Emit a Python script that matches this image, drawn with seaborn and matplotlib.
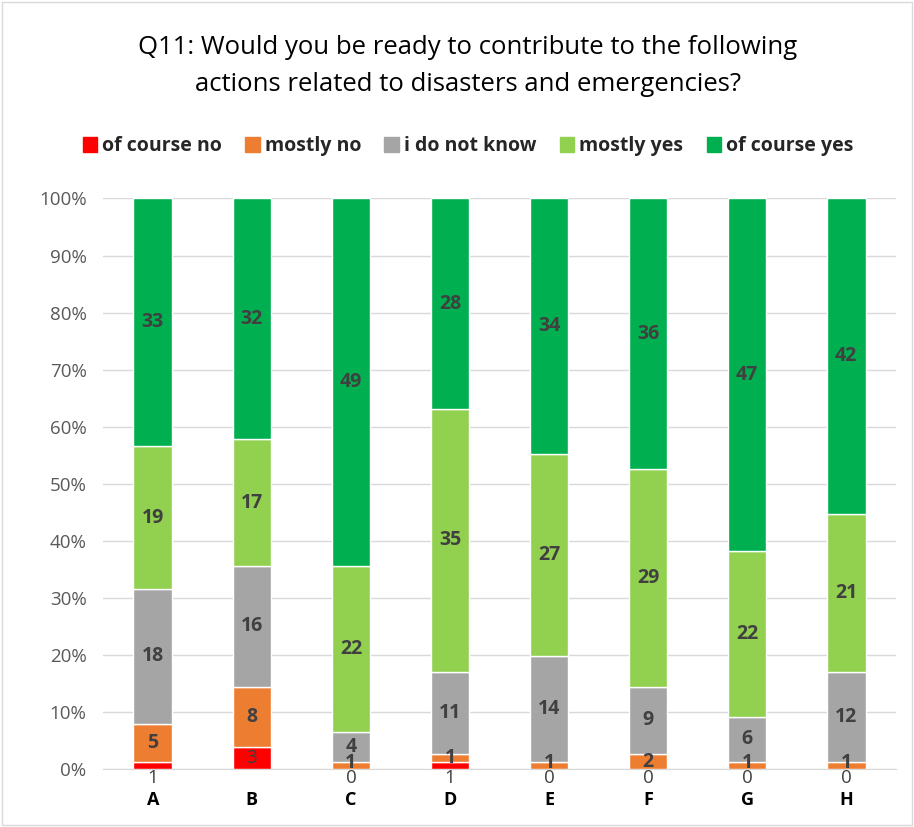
import numpy as np
import pandas as pd
import seaborn as sns
import matplotlib.pyplot as plt

items = ["A", "B", "C", "D", "E", "F", "G", "H"]
answers = ["of course no", "mostly no", "i do not know", "mostly yes", "of course yes"]
course_no = [1, 3, 0, 1, 0, 0, 0, 0]
mostly_no = [5, 8, 1, 1, 1, 2, 1, 1]
dont_know = [18, 16, 4, 11, 14, 9, 6, 12]
mostly_yes = [19, 17, 22, 35, 27, 29, 22, 21]
course_yes = [33, 32, 49, 28, 34, 36, 47, 42]
colors = ["#FF0000", "#ED7D31", "#A5A5A5", "#92D050", "#00B050"]

counts = np.array([course_no, mostly_no, dont_know, mostly_yes, course_yes], dtype=float)
pct = counts / counts.sum(axis=0) * 100

sns.set_style("white")
plt.rcParams["font.family"] = ["Open Sans", "DejaVu Sans"]

fig = plt.figure(figsize=(9.14, 8.27), dpi=100)
ax = fig.add_axes([0.113, 0.07, 0.867, 0.69])

bottom = np.zeros(len(items))
for i, ans in enumerate(answers):
    df = pd.DataFrame({"item": items, "pct": pct[i]})
    sns.barplot(data=df, x="item", y="pct", color=colors[i], width=0.39,
                bottom=bottom, ax=ax, label=ans, zorder=3, saturation=1,
                legend=False)
    for j in range(len(items)):
        y = bottom[j] + pct[i][j] / 2
        if i == 0:
            # tiny first segments: Excel pushes the label under the axis
            if pct[i][j] < 2:
                y = -1.6
            ax.text(j, y, f"{int(counts[i][j])}", ha="center", va="center",
                    fontsize=13.5, color="#404040", zorder=5)
        else:
            if i == 1 and pct[i][j] < 2:
                y = max(y, 1.1)
            ax.text(j, y, f"{int(counts[i][j])}", ha="center", va="center",
                    fontsize=14, fontweight="bold", color="#404040", zorder=5)
    bottom = bottom + pct[i]

ax.set_ylim(0, 100)
ax.set_xlim(-0.5, 7.5)
ax.set_yticks(range(0, 101, 10))
ax.set_yticklabels([f"{v}%" for v in range(0, 101, 10)], fontsize=13.5, color="#595959")
ax.set_xticks(range(len(items)))
ax.set_xticklabels(items, fontsize=13, fontweight="bold", color="black")
ax.tick_params(axis="x", length=0, pad=16)
ax.tick_params(axis="y", length=0, pad=12)
ax.yaxis.grid(True, color="#D9D9D9", linewidth=1, zorder=0)
ax.set_xlabel("")
ax.set_ylabel("")
for s in ["top", "right", "left"]:
    ax.spines[s].set_visible(False)
ax.spines["bottom"].set_color("#D9D9D9")

handles = [plt.Rectangle((0, 0), 1, 1, color=c) for c in colors]
fig.legend(handles, answers, loc="center", bbox_to_anchor=(0.512, 0.823), ncol=5,
           frameon=False, handlelength=0.75, handleheight=0.75, handletextpad=0.25,
           columnspacing=1.2, prop={"weight": "bold", "size": 14})

fig.suptitle("Q11: Would you be ready to contribute to the following\nactions related to disasters and emergencies?",
             x=0.512, y=0.958, fontsize=18.5, color="black", linespacing=1.65)

fig.patches.append(plt.Rectangle((0.002, 0.002), 0.996, 0.996, transform=fig.transFigure,
                                 fill=False, edgecolor="#D9D9D9", linewidth=1))

fig.savefig("out.png", dpi=100)
plt.close()
